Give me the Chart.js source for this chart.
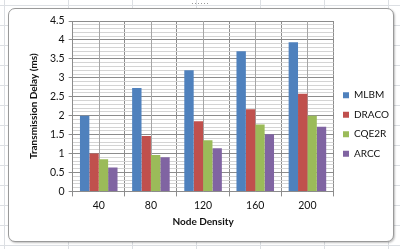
<!DOCTYPE html>
<html>
<head>
<meta charset="utf-8">
<script src="https://cdn.jsdelivr.net/npm/chart.js@4.4.0/dist/chart.umd.min.js"></script>
<style>
  html, body { margin: 0; padding: 0; }
  body {
    width: 400px; height: 249px; overflow: hidden; position: relative;
    background-color: #fff;
    background-image:
      linear-gradient(to right, #dcdfe3 1px, transparent 1px),
      linear-gradient(to bottom, #dcdfe3 1px, transparent 1px);
    background-size: 64px 20px;
    background-position: 4px 5px;
  }
  #frame {
    position: absolute; left: 8px; top: 8px; width: 384px; height: 232px;
    background: #fff; border: 1px solid #9a9a9a; border-radius: 7px;
    box-shadow: 1px 1px 2px rgba(0,0,0,0.25);
  }
  #grip {
    position: absolute; left: 191px; top: 2px; width: 18px; height: 4px;
    background-image: radial-gradient(#9a9a9a 0.8px, transparent 1px);
    background-size: 3px 3px;
  }
  #chart { position: absolute; left: 0; top: 0; }
</style>
</head>
<body>
<div id="frame"></div>
<div id="grip"></div>
<canvas id="chart" width="400" height="249"></canvas>
<script>
const nodeDensity = ["40", "80", "120", "160", "200"]
const mlbm  = [2.0, 2.73, 3.2, 3.7, 3.94]
const draco = [1.0, 1.46, 1.85, 2.17, 2.58]
const cqe2r = [0.85, 0.96, 1.35, 1.77, 2.0]
const arcc  = [0.63, 0.9, 1.14, 1.51, 1.71]

const FONT = "Lato, 'Open Sans', sans-serif"

// light vertical lines through the middle of each category, like the Excel sheet
const centerLines = {
  id: "centerLines",
  beforeDatasetsDraw(chart) {
    const { ctx, chartArea, scales } = chart
    ctx.save()
    ctx.strokeStyle = "#a6a6a6"
    ctx.lineWidth = 1
    nodeDensity.forEach((_, i) => {
      const x = Math.round(scales.x.getPixelForValue(i)) + 0.5
      ctx.beginPath()
      ctx.moveTo(x, chartArea.top)
      ctx.lineTo(x, chartArea.bottom)
      ctx.stroke()
    })
    ctx.restore()
  }
}

const isMajor = (v) => Math.abs(v * 2 - Math.round(v * 2)) < 1e-6

new Chart(document.getElementById("chart"), {
  type: "bar",
  data: {
    labels: nodeDensity,
    datasets: [
      { label: "MLBM", data: mlbm, backgroundColor: "#4f81bd" },
      { label: "DRACO", data: draco, backgroundColor: "#c0504d" },
      { label: "CQE2R", data: cqe2r, backgroundColor: "#9bbb59" },
      { label: "ARCC", data: arcc, backgroundColor: "#8064a2" },
    ],
  },
  options: {
    responsive: false,
    animation: false,
    devicePixelRatio: 1,
    categoryPercentage: 0.72,
    barPercentage: 1.0,
    layout: { padding: { left: 28, top: 21, right: 1, bottom: 21 } },
    scales: {
      x: {
        grid: { color: "#8c8c8c", tickLength: 5, tickColor: "#8c8c8c" },
        border: { color: "#8c8c8c" },
        ticks: { color: "#111", font: { family: FONT, size: 10.5 }, padding: 3 },
        title: {
          display: true, text: "Node Density", color: "#111",
          font: { family: FONT, size: 10, weight: "bold" }, padding: { top: 1, bottom: 0 },
        },
      },
      y: {
        min: 0, max: 4.5,
        grid: {
          color: (c) => isMajor(c.tick.value) ? "#8c8c8c" : "#d4d4d4",
          tickColor: (c) => isMajor(c.tick.value) ? "#8c8c8c" : "rgba(0,0,0,0)",
          tickLength: 4,
        },
        border: { color: "#8c8c8c" },
        ticks: {
          stepSize: 0.1,
          autoSkip: false,
          color: "#111",
          font: { family: FONT, size: 10.5 },
          padding: 4,
          callback: (v) => isMajor(v) ? String(Math.round(v * 2) / 2) : "",
        },
        title: {
          display: true, text: "Transmission Delay (ms)", color: "#111",
          font: { family: FONT, size: 10, weight: "bold" }, padding: { top: 0, bottom: 6 },
        },
      },
    },
    plugins: {
      legend: {
        position: "right",
        labels: {
          boxWidth: 6, boxHeight: 6, padding: 9.5, color: "#111",
          font: { family: FONT, size: 10 },
        },
      },
      tooltip: { enabled: false },
    },
  },
  plugins: [centerLines],
})
</script>
</body>
</html>
